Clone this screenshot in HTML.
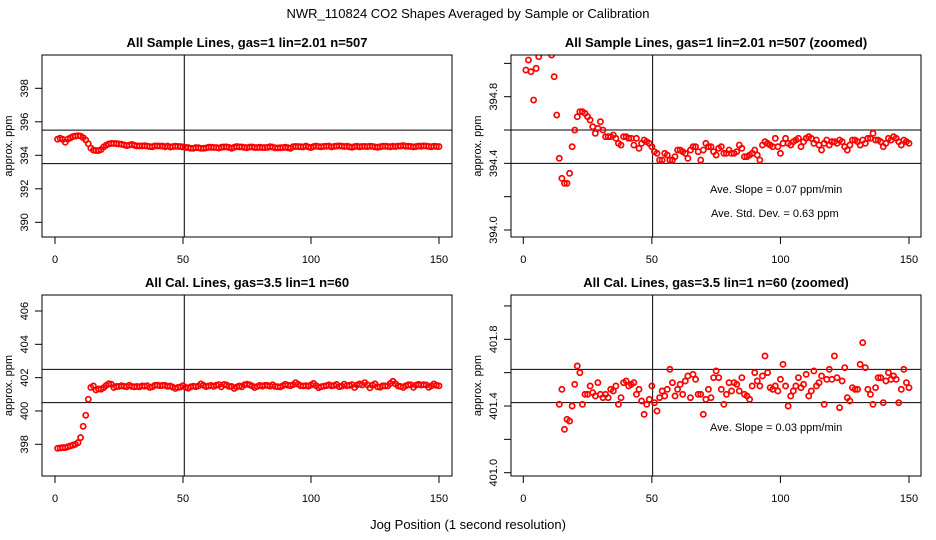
<!DOCTYPE html>
<html><head><meta charset="utf-8"><style>
html,body{margin:0;padding:0;background:#fff;overflow:hidden;width:936px;height:540px;}
svg{display:block;}
svg text{font-family:"Liberation Sans",sans-serif;fill:#000;}
</style></head><body>
<svg id="chart" xmlns="http://www.w3.org/2000/svg" width="936" height="540" viewBox="0 0 936 540">
<rect width="936" height="540" fill="#fff"/>
<text x="468" y="18" text-anchor="middle" font-size="13">NWR_110824  CO2 Shapes Averaged by Sample or Calibration</text>
<text x="468" y="529" text-anchor="middle" font-size="13">Jog Position (1 second resolution)</text>
</svg>
<script>
const sampleValues = [394.96,395.02,394.95,394.78,394.97,395.04,395.12,395.15,395.17,395.15,395.05,394.92,394.69,394.43,394.31,394.28,394.28,394.34,394.50,394.60,
394.68,394.71,394.71,394.70,394.68,394.66,394.62,394.58,394.61,394.65,394.60,394.56,394.56,394.56,394.57,394.55,394.52,394.51,394.56,394.56,
394.55,394.55,394.51,394.55,394.49,394.52,394.54,394.53,394.52,394.50,394.47,394.46,394.42,394.42,394.46,394.45,394.42,394.42,394.44,394.48,
394.48,394.47,394.46,394.43,394.48,394.50,394.50,394.47,394.42,394.48,394.52,394.50,394.50,394.47,394.45,394.49,394.50,394.46,394.46,394.48,
394.46,394.46,394.47,394.51,394.49,394.44,394.44,394.45,394.46,394.48,394.45,394.42,394.51,394.53,394.52,394.51,394.50,394.55,394.50,394.46,
394.52,394.55,394.52,394.51,394.53,394.54,394.55,394.50,394.53,394.55,394.56,394.55,394.52,394.54,394.51,394.48,394.52,394.54,394.51,394.53,
394.53,394.52,394.54,394.53,394.50,394.48,394.51,394.54,394.54,394.53,394.51,394.54,394.52,394.55,394.55,394.58,394.54,394.54,394.53,394.50,
394.52,394.55,394.54,394.56,394.55,394.53,394.51,394.54,394.53,394.52];
const calValues = [397.76,397.78,397.8,397.8,397.85,397.9,397.95,398.0,398.1,398.4,399.08,399.74,400.7,
401.41,401.50,401.26,401.32,401.31,401.40,401.53,401.64,401.60,401.41,401.47,401.47,401.52,401.48,401.46,401.54,401.47,
401.45,401.47,401.45,401.50,401.49,401.52,401.41,401.45,401.54,401.55,401.52,401.53,401.54,401.47,401.50,401.43,401.35,
401.41,401.44,401.52,401.42,401.37,401.45,401.49,401.46,401.50,401.62,401.54,401.46,401.50,401.53,401.47,401.55,401.58,
401.45,401.59,401.56,401.47,401.47,401.35,401.44,401.50,401.45,401.57,401.61,401.57,401.50,401.41,401.47,401.54,401.49,
401.54,401.53,401.49,401.57,401.47,401.46,401.44,401.52,401.60,401.55,401.52,401.58,401.70,401.60,401.51,401.50,401.52,
401.49,401.56,401.65,401.52,401.40,401.46,401.49,401.52,401.57,401.51,401.53,401.59,401.46,401.49,401.61,401.52,401.54,
401.58,401.41,401.56,401.62,401.56,401.70,401.57,401.39,401.55,401.63,401.45,401.43,401.51,401.50,401.50,401.65,401.78,
401.63,401.50,401.47,401.41,401.51,401.57,401.57,401.42,401.55,401.60,401.56,401.58,401.56,401.42,401.50,401.62,401.54,401.51];
const xTicks = [0,50,100,150];
const p1Ticks = [390,392,394,396,398];
const p2Ticks = [394.0,394.2,394.4,394.6,394.8,395.0];
const p2Labels = [394.0,394.4,394.8];
const p3Ticks = [398,400,402,404,406];
const p4Ticks = [401.0,401.2,401.4,401.6,401.8,402.0];
const p4Labels = [401.0,401.4,401.8];

const NS="http://www.w3.org/2000/svg";
const svg=document.getElementById('chart');
function mk(tag,attrs,parent){const e=document.createElementNS(NS,tag);for(const k in attrs)e.setAttribute(k,attrs[k]);(parent||svg).appendChild(e);return e;}

function panel(o){
  const g=mk('g',{});
  
  
  const sx=v=>o.x0+(v-0)*(o.x150-o.x0)/150;
  const sy=v=>o.yA+(v-o.vA)*(o.yB-o.yA)/(o.vB-o.vA);
  const cid='clip-'+o.name;
  const cp=mk('clipPath',{id:cid},g);mk('rect',{x:o.L,y:o.T,width:o.R-o.L,height:o.B-o.T},cp);
  const t=mk('text',{x:(o.L+o.R)/2,y:o.T-8,'text-anchor':'middle','font-size':'13','font-weight':'bold'},g);
  t.textContent=o.title;
  
  
  mk('line',{x1:sx(o.vline),x2:sx(o.vline),y1:o.T,y2:o.B,stroke:'#000','stroke-width':1},g);
  o.hlines.forEach(h=>mk('line',{x1:o.L,x2:o.R,y1:sy(h),y2:sy(h),stroke:'#000','stroke-width':1},g));
  const pg=mk('g',{'clip-path':'url(#'+cid+')'},g);
  
  
  o.data.forEach((v,i)=>{
    const c=mk('circle',{cx:sx(i+1),cy:sy(v),r:2.6,fill:'none',stroke:'#f00','stroke-width':1.7},pg);
    
    
  });
  mk('rect',{x:o.L,y:o.T,width:o.R-o.L,height:o.B-o.T,fill:'none',stroke:'#000','stroke-width':1},g);
  mk('line',{x1:sx(0),x2:sx(150),y1:o.B,y2:o.B,stroke:'#000'},g);
  xTicks.forEach(v=>{
    mk('line',{x1:sx(v),x2:sx(v),y1:o.B,y2:o.B+7,stroke:'#000'},g);
    const tl=mk('text',{x:sx(v),y:o.B+26,'text-anchor':'middle','font-size':'11'},g);tl.textContent=v;
    
    
  });
  mk('line',{x1:o.L,x2:o.L,y1:sy(o.yt[0]),y2:sy(o.yt[o.yt.length-1]),stroke:'#000'},g);
  o.yt.forEach(v=>mk('line',{x1:o.L-7,x2:o.L,y1:sy(v),y2:sy(v),stroke:'#000'},g));
  o.yl.forEach(v=>{
    const xx=o.L-14,yy=sy(v);
    const tl=mk('text',{x:xx,y:yy,'text-anchor':'middle','font-size':'11',transform:'rotate(-90 '+xx+' '+yy+')'},g);
    tl.textContent=o.fmt(v);
    
    
  });
  const ax=o.L-30, ay=(o.T+o.B)/2;
  const yl=mk('text',{x:ax,y:ay,'text-anchor':'middle','font-size':'11',transform:'rotate(-90 '+ax+' '+ay+')'},g);
  yl.textContent='approx. ppm';
  
  
  (o.notes||[]).forEach(n=>{
    const nt=mk('text',{x:n[0],y:n[1],'font-size':'11'},g);nt.textContent=n[2];
    
    
  });
}
const f0=v=>String(v), f1=v=>v.toFixed(1);
panel({name:'sample-panel',title:'All Sample Lines, gas=1 lin=2.01 n=507',L:42,R:452,T:55,B:237,x0:55,x150:439,
  vA:398,yA:88.3,vB:390,yB:222.3,yt:p1Ticks,yl:p1Ticks,fmt:f0,hlines:[395.5,393.5],vline:50.5,data:sampleValues});
panel({name:'sample-zoomed-panel',title:'All Sample Lines, gas=1 lin=2.01 n=507 (zoomed)',L:511,R:921,T:55,B:237,x0:523.3,x150:909,
  vA:394.8,yA:96.7,vB:394.0,yB:230,yt:p2Ticks,yl:p2Labels,fmt:f1,hlines:[394.6,394.4],vline:50.3,data:sampleValues,
  notes:[[710,193,'Ave. Slope =  0.07  ppm/min'],[711,217,'Ave. Std. Dev. =  0.63  ppm']]});
panel({name:'cal-panel',title:'All Cal. Lines, gas=3.5 lin=1 n=60',L:42,R:452,T:295,B:476,x0:55,x150:439,
  vA:406,yA:311,vB:398,yB:444.3,yt:p3Ticks,yl:p3Ticks,fmt:f0,hlines:[402.5,400.5],vline:50.5,data:calValues});
panel({name:'cal-zoomed-panel',title:'All Cal. Lines, gas=3.5 lin=1 n=60 (zoomed)',L:511,R:921,T:295,B:476,x0:523.3,x150:909,
  vA:401.8,yA:339.3,vB:401.0,yB:472.7,yt:p4Ticks,yl:p4Labels,fmt:f1,hlines:[401.62,401.42],vline:50.3,data:calValues,
  notes:[[710,431,'Ave. Slope =  0.03  ppm/min']]});
</script>
</body></html>
